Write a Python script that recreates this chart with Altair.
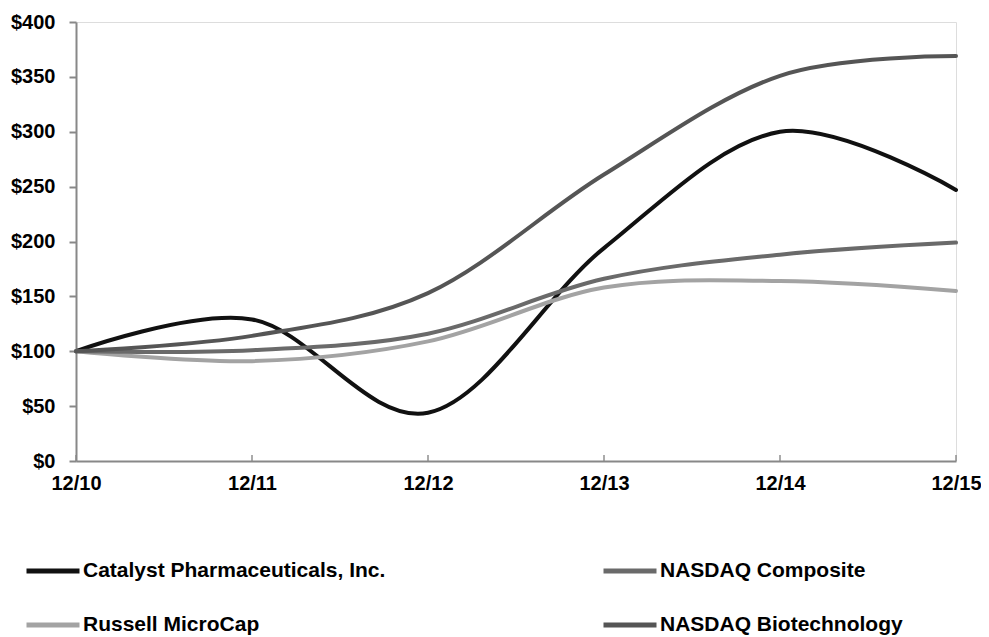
import altair as alt
import pandas as pd

dates = ["12/10", "12/11", "12/12", "12/13", "12/14", "12/15"]
series_names = ["Catalyst Pharmaceuticals, Inc.", "Russell MicroCap", "NASDAQ Composite", "NASDAQ Biotechnology"]
catalyst = [100, 129, 44, 194, 300, 247]
russell = [100, 91, 109, 158, 164, 155]
nasdaq_comp = [100, 101, 116, 166, 188, 199]
nasdaq_bio = [100, 114, 153, 261, 351, 369]
colors = ["#111111", "#a3a3a3", "#6a6a6a", "#555555"]

rows = []
for name, vals in zip(series_names, [catalyst, russell, nasdaq_comp, nasdaq_bio]):
    for d, v in zip(dates, vals):
        rows.append({"date": d, "value": v, "series": name})
df = pd.DataFrame(rows)
ticks_df = pd.DataFrame({"date": dates, "base": [0] * len(dates)})

FONT = "Liberation Sans"

x_enc = alt.X("date:O", sort=dates,
              scale=alt.Scale(type="point", padding=0, domain=dates),
              axis=alt.Axis(title=None, labelAngle=0, labelAlign="center", labelFont=FONT,
                            labelFontWeight="bold", labelFontSize=20, labelColor="#000",
                            labelPadding=12, labelBaseline="top",
                            ticks=False, domainColor="#888888", domainWidth=2))

lines = alt.Chart(df).mark_line(interpolate="cardinal", strokeWidth=4, strokeCap="round").encode(
    x=x_enc,
    y=alt.Y("value:Q", scale=alt.Scale(domain=[0, 400], nice=False),
            axis=alt.Axis(title=None, values=[0, 50, 100, 150, 200, 250, 300, 350, 400],
                          format="$.0f", labelFont=FONT, labelFontWeight="bold", labelFontSize=20,
                          labelColor="#000", tickSize=7, tickColor="#888888", tickWidth=2,
                          labelPadding=14, domainColor="#888888", domainWidth=2, grid=False)),
    color=alt.Color("series:N", sort=series_names,
                    scale=alt.Scale(domain=series_names, range=colors),
                    legend=alt.Legend(title=None, orient="none", legendX=-52, legendY=520,
                                      columns=2, symbolType="stroke", symbolSize=2809,
                                      symbolStrokeWidth=5, labelFont=FONT, labelFontWeight="bold",
                                      labelFontSize=21, labelColor="#000", labelOffset=1,
                                      columnPadding=207, rowPadding=15, padding=0,
                                      labelLimit=400)),
)

xticks = alt.Chart(ticks_df).mark_tick(color="#888888", thickness=2, size=6, yOffset=-3,
                                       orient="vertical").encode(
    x=alt.X("date:O", sort=dates),
    y=alt.Y("base:Q"),
)

chart = alt.layer(lines, xticks).properties(
    width=880, height=439,
    autosize=alt.AutoSizeParams(type="none"),
    padding={"left": 68, "top": 14, "right": 25, "bottom": 176},
).configure_view(stroke=None).configure(background="white")

chart.save("out.html", embed_options={"renderer": "svg", "actions": False})
